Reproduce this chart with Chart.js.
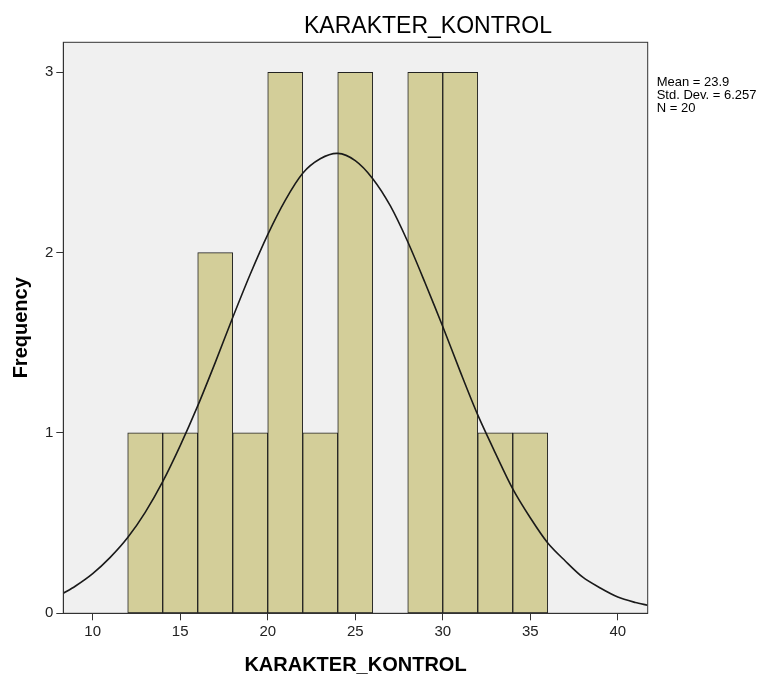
<!DOCTYPE html>
<html>
<head>
<meta charset="utf-8">
<script src="https://cdn.jsdelivr.net/npm/chart.js@4.4.1/dist/chart.umd.min.js"></script>
<style>
  body { margin: 0; background: #fff; }
  #wrap { width: 778px; height: 681px; }
</style>
</head>
<body>
<div id="wrap"><canvas id="histChart" width="778" height="681"></canvas></div>
<script>
// histogram bins (left edge), width 2
const binStarts = [12, 14, 16, 18, 20, 22, 24, 26, 28, 30, 32, 34];
const frequency = [1, 1, 2, 1, 3, 1, 3, 0, 3, 3, 1, 1];
const binWidth = 2;

// normal curve
const curveX = [8.3, 9, 10, 11, 12, 13, 14, 15, 16, 17, 18, 19, 20, 21, 22, 23, 24, 25, 26, 27, 28, 29, 30, 31, 32, 33, 34, 35, 36, 37, 38, 39, 40, 41, 41.7];
const curveY = [0.11, 0.15, 0.22, 0.31, 0.42, 0.56, 0.73, 0.93, 1.15, 1.39, 1.64, 1.88, 2.10, 2.29, 2.44, 2.52, 2.55, 2.51, 2.41, 2.26, 2.06, 1.83, 1.59, 1.34, 1.10, 0.89, 0.69, 0.53, 0.39, 0.29, 0.20, 0.14, 0.09, 0.06, 0.045];

const xTicks = [10, 15, 20, 25, 30, 35, 40];
const yTicks = [0, 1, 2, 3];
const statLines = ['Mean = 23.9', 'Std. Dev. = 6.257', 'N = 20'];
const chartTitle = 'KARAKTER_KONTROL';
const xTitle = 'KARAKTER_KONTROL';
const yTitle = 'Frequency';

const FONT = "'Liberation Sans', Arial, sans-serif";
const AXIS_COLOR = '#333333';

// plot background, frame, title and stats
const decorPlugin = {
  id: 'decor',
  beforeDraw(chart) {
    const { ctx, chartArea: a } = chart;
    ctx.save();
    ctx.fillStyle = '#f0f0f0';
    ctx.fillRect(a.left, a.top, a.right - a.left, a.bottom - a.top);
    ctx.restore();
  },
  afterDraw(chart) {
    const { ctx, chartArea: a } = chart;
    ctx.save();
    ctx.strokeStyle = AXIS_COLOR;
    ctx.lineWidth = 1;
    ctx.strokeRect(a.left, a.top, a.right - a.left, a.bottom - a.top);

    ctx.fillStyle = '#000';
    ctx.textAlign = 'center';
    ctx.textBaseline = 'alphabetic';
    ctx.font = '23px ' + FONT;
    ctx.fillText(chartTitle, 428, 33);

    ctx.textAlign = 'left';
    ctx.font = '13px ' + FONT;
    statLines.forEach((s, i) => ctx.fillText(s, a.right + 9, 86 + i * 13));
    ctx.restore();
  }
};

const ctx = document.getElementById('histChart').getContext('2d');
new Chart(ctx, {
  type: 'bar',
  data: {
    datasets: [
      {
        type: 'line',
        data: curveX.map((x, i) => ({ x: x, y: curveY[i] })),
        borderColor: '#1a1a1a',
        borderWidth: 1.6,
        pointRadius: 0,
        tension: 0.3,
        fill: false,
        order: 0
      },
      {
        type: 'bar',
        data: binStarts.map((b, i) => ({ x: b + binWidth / 2, y: frequency[i] })),
        backgroundColor: '#d3ce99',
        borderColor: '#222222',
        borderWidth: 1,
        borderSkipped: false,
        barPercentage: 1,
        categoryPercentage: 1,
        order: 1
      }
    ]
  },
  options: {
    responsive: false,
    animation: false,
    layout: { padding: { left: 0, top: 42.3, right: 130.3, bottom: 0 } },
    plugins: { legend: { display: false }, tooltip: { enabled: false }, title: { display: false } },
    scales: {
      x: {
        type: 'linear',
        min: 8.32,
        max: 41.71,
        offset: false,
        afterFit(scale) { scale.height = 67.7; },
        afterBuildTicks(scale) { scale.ticks = xTicks.map(v => ({ value: v })); },
        grid: { offset: false, drawOnChartArea: false, drawTicks: true, tickLength: 7, color: AXIS_COLOR },
        border: { color: AXIS_COLOR, width: 1 },
        ticks: { color: '#222', font: { family: FONT, size: 15 }, padding: 3, maxRotation: 0 },
        title: { display: true, text: xTitle, color: '#000', font: { family: FONT, size: 20, weight: 'bold' }, padding: { top: 0, bottom: 4 } }
      },
      y: {
        type: 'linear',
        min: 0,
        max: 3.166,
        afterFit(scale) { scale.width = 63.3; },
        afterBuildTicks(scale) { scale.ticks = yTicks.map(v => ({ value: v })); },
        grid: { drawOnChartArea: false, drawTicks: true, tickLength: 7, color: AXIS_COLOR },
        border: { color: AXIS_COLOR, width: 1 },
        ticks: { color: '#222', font: { family: FONT, size: 15 }, padding: 3 },
        title: { display: true, text: yTitle, color: '#000', font: { family: FONT, size: 20, weight: 'bold' }, padding: { top: 9, bottom: 0 } }
      }
    }
  },
  plugins: [decorPlugin]
});
</script>
</body>
</html>
